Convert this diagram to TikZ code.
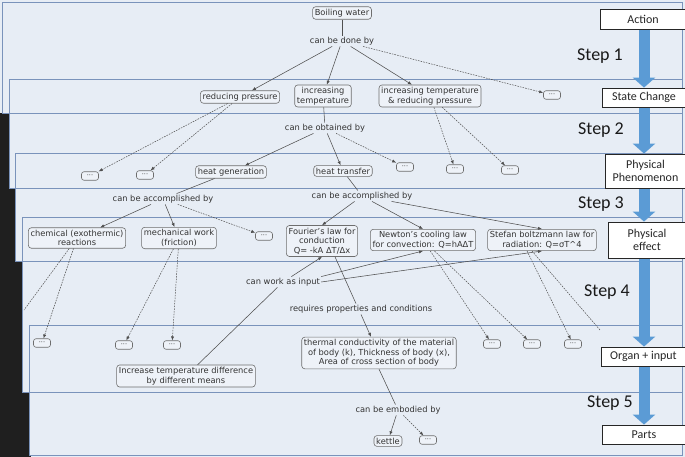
\documentclass[tikz,border=0pt]{standalone}
\usepackage{fontspec}
\setmainfont{DejaVu Sans}
\newfontfamily\calib{Carlito}
\usetikzlibrary{arrows.meta,calc}
\pgfdeclarelayer{back}
\pgfsetlayers{back,main}
\definecolor{bgfill}{HTML}{E7EDF5}
\definecolor{bgline}{HTML}{7A93BB}
\definecolor{nodeline}{HTML}{6E6E6E}
\definecolor{nodefill}{HTML}{EEF2F8}
\definecolor{txt}{HTML}{333333}
\definecolor{conn}{HTML}{505050}
\definecolor{stepblue}{HTML}{5B9BD5}
\tikzset{
  concept/.style={draw=nodeline, fill=nodefill, rounded corners=3pt, line width=0.6pt, text=txt,
    font=\fontsize{8.3}{9.6}\selectfont, align=center, inner sep=2.2pt},
  lbl/.style={text=txt, font=\fontsize{8.3}{9.6}\selectfont, inner sep=1.2pt, align=center},
  dots/.style={draw=nodeline, fill=nodefill, rounded corners=2.5pt, minimum width=17pt,
    minimum height=8.5pt, inner sep=0pt, line width=0.6pt, text=txt, font=\fontsize{6.5}{6.5}\selectfont},
  con/.style={draw=conn, line width=0.55pt, -{Latex[length=4pt,width=3.2pt]}},
  pline/.style={draw=conn, line width=0.55pt},
  dcon/.style={draw=conn, line width=0.5pt, dash pattern=on 1.6pt off 1.1pt, -{Latex[length=4pt,width=3.2pt]}},
  dfree/.style={draw=conn, line width=0.5pt, dash pattern=on 1.6pt off 1.1pt},
  rbox/.style={draw=black!85, fill=white, line width=0.8pt, font=\calib\fontsize{12}{13.5}\selectfont,
    text=black!85, align=center, inner sep=1pt},
  steplbl/.style={font=\calib\fontsize{18}{20}\selectfont, text=black!90},
  bigarr/.style={draw=stepblue, line width=11pt, -{Triangle[length=10pt,width=22pt]}},
  panel/.style={draw=bgline, fill=bgfill, line width=0.8pt}
}
\begin{document}
\begin{tikzpicture}[x=1pt,y=-1pt]
\useasboundingbox (0,0) rectangle (685,457);
\begin{pgfonlayer}{back}
\fill[bgfill] (0,0) rectangle (685,457);
\fill[black!88] (0,113) rectangle (31,457);
\foreach \xa/\ya/\yb in {2/2/113, 9/79/113, 9/113/188, 15/153/188, 15/188/261, 22/217/261, 22/261/392, 29/325/392, 29/392/455}
  \draw[panel] (\xa,\ya) rectangle (682,\yb);
\end{pgfonlayer}

% right column
\node[rbox, minimum width=86pt, minimum height=20pt] (act) at (643,19) {Action};
\node[rbox, minimum width=84pt, minimum height=19pt] (sc) at (644,97.5) {State Change};
\node[rbox, minimum width=81pt, minimum height=34pt] (pp) at (645.5,171) {Physical\\[-1pt]Phenomenon};
\node[rbox, minimum width=78pt, minimum height=36pt] (pe) at (647,240) {Physical\\[-1pt]effect};
\node[rbox, minimum width=85pt, minimum height=19pt] (oi) at (643.5,356.5) {Organ + input};
\node[rbox, minimum width=84pt, minimum height=19pt] (parts) at (644,434.5) {Parts};
\coordinate (ax) at (644,0);
\begin{pgfonlayer}{back}
\draw[bigarr] (act.south -| ax) -- (sc.north -| ax);
\draw[bigarr] (sc.south -| ax) -- (pp.north -| ax);
\draw[bigarr] (pp.south -| ax) -- (pe.north -| ax);
\draw[bigarr] (pe.south -| ax) -- (oi.north -| ax);
\draw[bigarr] (oi.south -| ax) -- (parts.north -| ax);
\end{pgfonlayer}
\node[steplbl] (s1) at (600,56) {Step 1};
\node[steplbl] (s2) at (601,130) {Step 2};
\node[steplbl] (s3) at (601,204) {Step 3};
\node[steplbl] (s4) at (607,292) {Step 4};
\node[steplbl] (s5) at (610,403) {Step 5};

% concept map
\node[concept] (boil) at (342,13) {Boiling water};
\node[lbl] (done) at (342,41) {can be done by};
\node[concept] (redp) at (240,97) {reducing pressure};
\node[concept] (inct) at (323,96) {increasing\\temperature};
\node[concept] (incrp) at (430,96) {increasing temperature\\\& reducing pressure};
\node[dots] (d1) at (552,95) {···};
\node[lbl] (obt) at (325,128) {can be obtained by};
\node[dots] (d2) at (90,176) {···};
\node[dots] (d3) at (145,175) {···};
\node[concept] (hgen) at (231,172) {heat generation};
\node[concept] (htr) at (343,171) {heat transfer};
\node[dots] (d4) at (405,167) {···};
\node[dots] (d5) at (455,169) {···};
\node[dots] (d6) at (510,170) {···};
\node[lbl] (acc1) at (163,199) {can be accomplished by};
\node[lbl] (acc2) at (362,196) {can be accomplished by};
\node[concept] (chem) at (77,238) {chemical (exothermic)\\reactions};
\node[concept] (mech) at (179,238) {mechanical work\\(friction)};
\node[dots] (d7) at (264,236) {···};
\node[concept] (four) at (322,241) {Fourier's law for\\conduction\\Q= -kA ΔT/Δx};
\node[concept] (newt) at (423,240) {Newton's cooling law\\for convection: Q=hAΔT};
\node[concept] (stef) at (542,240) {Stefan boltzmann law for\\radiation: Q=σT\textasciicircum 4};
\node[lbl] (inp) at (283,282) {can work as input};
\node[lbl] (req) at (361,309) {requires properties and conditions};
\node[dots] (d8) at (42,343) {···};
\node[dots] (d9) at (124,345) {···};
\node[dots] (d10) at (172,345) {···};
\node[dots] (d11) at (492,344) {···};
\node[dots] (d12) at (532,344) {···};
\node[dots] (d13) at (573,344) {···};
\node[concept] (incd) at (186,376) {Increase temperature difference\\by different means};
\node[concept] (therm) at (379,353) {thermal conductivity of the material\\of body (k), Thickness of body (x),\\Area of cross section of body};
\node[lbl] (emb) at (398,410) {can be embodied by};
\node[concept] (ket) at (388,441) {kettle};
\node[dots] (d14) at (428,440) {···};
\coordinate (f1) at (24,310);
\coordinate (f2) at (600,330);

% connectors
\draw[pline] (boil) -- (done);
\draw[con] (done) -- (redp);
\draw[con] (done) -- (inct);
\draw[con] (done) -- (incrp);
\draw[dcon] (done) -- (d1);
\draw[pline] (inct) -- (obt);
\draw[con] (obt) -- (hgen);
\draw[con] (obt) -- (htr);
\draw[dcon] (obt) -- (d4);
\draw[dcon] (redp) -- (d2);
\draw[dcon] (redp) -- (d3);
\draw[dcon] (incrp) -- (d5);
\draw[dcon] (incrp) -- (d6);
\draw[pline] (hgen) -- (acc1);
\draw[con] (acc1) -- (chem);
\draw[con] (acc1) -- (mech);
\draw[dcon] (acc1) -- (d7);
\draw[pline] (htr) -- (acc2);
\draw[con] (acc2) -- (four.north);
\draw[con] (acc2) -- (newt.north);
\draw[con] (acc2) -- (stef.north);
\draw[dcon] (chem) -- (d8);
\draw[dfree] (chem) -- (f1);
\draw[dcon] (mech) -- (d9);
\draw[dcon] (mech) -- (d10);
\draw[dcon] (newt) -- (d11);
\draw[dcon] (newt) -- (d12);
\draw[dcon] ([xshift=-15pt]stef.south) -- (d13);
\draw[dfree] ([xshift=-10pt]stef.south) -- (f2);
\draw[pline] (incd) -- (inp);
\draw[con] (inp) -- (four.south);
\draw[con] (inp.north east) -- (newt.south);
\draw[con] (inp.east) -- (stef.south);
\draw[pline] ([xshift=13pt]four.south) -- ([xshift=-5pt]req.north);
\draw[con] (req.south) -- ([xshift=-8pt]therm.north);
\draw[pline] (therm.south) -- (emb);
\draw[con] (emb) -- (ket);
\draw[dcon] (emb) -- (d14);
\end{tikzpicture}
\end{document}
